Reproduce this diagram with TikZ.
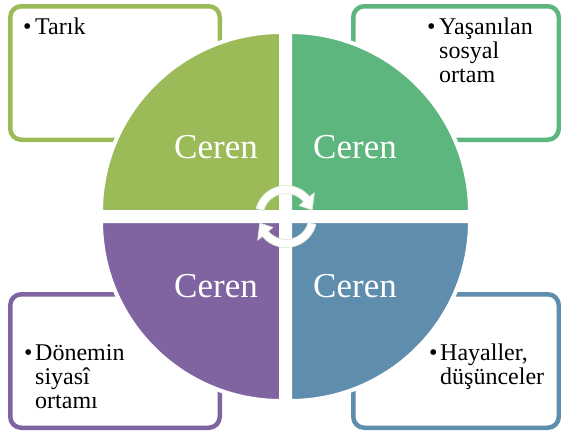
\documentclass[tikz,border=0pt]{standalone}
\usepackage{fontspec}
\setmainfont{Liberation Serif}
\definecolor{qolive}{RGB}{155,187,89}
\definecolor{qgreen}{RGB}{92,182,126}
\definecolor{qblue}{RGB}{95,141,173}
\definecolor{qpurple}{RGB}{128,100,162}
\definecolor{arrowrim}{RGB}{222,230,212}
% left-aligned lines whose baseline is that of the first line
\newcommand\stacklines[1]{\vtop{\halign{##\hfil\cr#1\crcr}}}
\tikzset{
  infobox/.style={line width=4.5pt, rounded corners=11pt, fill=white},
  quarter/.style={draw=white, line width=4pt},
  bodytext/.style={anchor=base west, inner sep=0pt,
    font=\fontsize{24}{24}\selectfont},
  bulletmark/.style={anchor=base west, inner sep=0pt,
    font=\fontsize{24}{24}\selectfont},
  quadlabel/.style={anchor=base, inner sep=0pt, text=white,
    font=\fontsize{35}{35}\selectfont},
  cyclearrow/.style={fill=white, draw=arrowrim, line width=0.7pt, line join=round}
}
\begin{document}
\begin{tikzpicture}[x=1pt,y=-1pt]
\useasboundingbox (0,0) rectangle (561,434);

% text boxes behind the circle
\draw[infobox, draw=qolive]   (10.25,6.25)   rectangle (219.75,139.75);
\draw[infobox, draw=qgreen]   (353.25,6.25)  rectangle (558.75,139.75);
\draw[infobox, draw=qpurple]  (10.25,294.25) rectangle (219.75,427.75);
\draw[infobox, draw=qblue]    (353.25,294.25) rectangle (558.75,427.75);

% four quarter discs
\filldraw[quarter, fill=qolive]  (281,212) -- ++(-180,0) arc[start angle=180, end angle=270, radius=180] -- cycle;
\filldraw[quarter, fill=qgreen]  (290,212) -- ++(180,0)  arc[start angle=0,   end angle=-90, radius=180] -- cycle;
\filldraw[quarter, fill=qblue]   (290,221) -- ++(180,0)  arc[start angle=0,   end angle=90,  radius=180] -- cycle;
\filldraw[quarter, fill=qpurple] (281,221) -- ++(-180,0) arc[start angle=180, end angle=90,  radius=180] -- cycle;

% quadrant labels
\node[quadlabel] (lblTL) at (216,158) {Ceren};
\node[quadlabel] (lblTR) at (355,158) {Ceren};
\node[quadlabel] (lblBL) at (216,297) {Ceren};
\node[quadlabel] (lblBR) at (355,297) {Ceren};

% cycle arrows in the middle (y axis turned back up)
\begin{scope}[shift={(286,216.5)}, yscale=-1]
  \path[cyclearrow] (165:23) -- (165:31) arc[start angle=165, end angle=40, radius=31]
    -- (40:37) -- (14:27) -- (40:17) -- (40:23)
    arc[start angle=40, end angle=165, radius=23] -- cycle;
  \path[cyclearrow] (-15:23) -- (-15:31) arc[start angle=-15, end angle=-140, radius=31]
    -- (-140:37) -- (-166:27) -- (-140:17) -- (-140:23)
    arc[start angle=-140, end angle=-15, radius=23] -- cycle;
\end{scope}

% bullet texts
\node[bulletmark] (bTL) at (23,34)  {\textbullet};
\node[bodytext]   (tTL) at (35,34)  {Tarık};
\node[bulletmark] (bTR) at (427,34) {\textbullet};
\node[bodytext]   (tTR) at (439,34) {\stacklines{Yaşanılan\cr sosyal\cr ortam}};
\node[bulletmark] (bBL) at (24,360) {\textbullet};
\node[bodytext]   (tBL) at (35,360) {\stacklines{Dönemin\cr siyasî\cr ortamı}};
\node[bulletmark] (bBR) at (429,360) {\textbullet};
\node[bodytext]   (tBR) at (440,360) {\stacklines{Hayaller,\cr düşünceler}};
\end{tikzpicture}
\end{document}
